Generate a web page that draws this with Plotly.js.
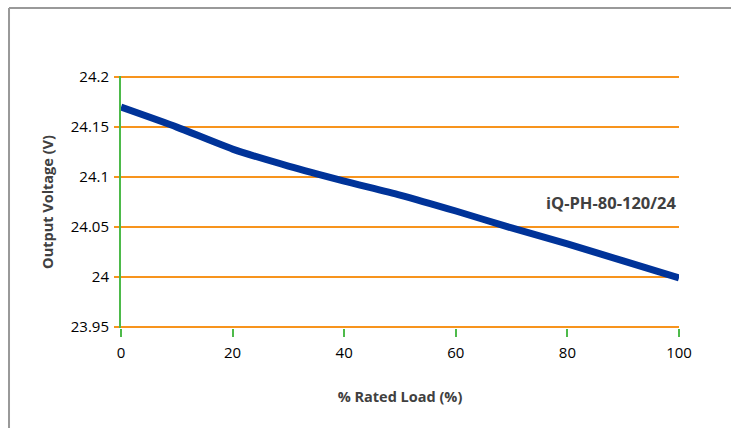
<!DOCTYPE html>
<html>
<head>
<meta charset="utf-8">
<script src="https://cdn.plot.ly/plotly-3.0.1.min.js"></script>
<style>
html,body{margin:0;padding:0;background:#fff;}
#chart{width:731px;height:428px;}
</style>
</head>
<body>
<div id="chart"></div>
<script>
const loadPct = [0, 10, 20, 30, 40, 50, 60, 70, 80, 90, 100];
const outputVoltage = [24.170, 24.150, 24.128, 24.111, 24.096, 24.082, 24.066, 24.049, 24.033, 24.016, 23.999];
const xTickVals = [0, 20, 40, 60, 80, 100];
const yTickVals = [23.95, 24, 24.05, 24.1, 24.15, 24.2];
const yTickText = ['23.95', '24', '24.05', '24.1', '24.15', '24.2'];
const seriesLabel = 'iQ-PH-80-120/24';

const font = '"Open Sans", Lato, sans-serif';
const gridColor = '#F7941D';

const trace = {
  x: loadPct,
  y: outputVoltage,
  type: 'scatter',
  mode: 'lines',
  line: {color: '#003399', width: 7, shape: 'spline', smoothing: 0.6},
  hoverinfo: 'skip',
  showlegend: false
};

const yMin = yTickVals[0];
const yMax = yTickVals[yTickVals.length - 1];
const pad = 0.0012;

const layout = {
  width: 731,
  height: 428,
  margin: {l: 121, r: 52, t: 76, b: 100},
  paper_bgcolor: '#ffffff',
  plot_bgcolor: '#ffffff',
  font: {family: font, size: 15, color: '#000000'},
  xaxis: {
    range: [0, 100],
    tickvals: xTickVals,
    ticks: 'outside',
    ticklen: 8,
    tickwidth: 2,
    tickcolor: '#4DBA4A',
    showgrid: false,
    zeroline: false,
    showline: false,
    ticklabelstandoff: 3,
    tickfont: {family: font, size: 15, color: '#000'},
    title: {text: '% Rated Load (%)', font: {family: font, size: 14.5, color: '#404040', weight: 'bold'}, standoff: 30}
  },
  yaxis: {
    range: [yMin - pad, yMax + pad],
    tickvals: yTickVals,
    ticktext: yTickText,
    ticks: 'outside',
    ticklen: 5,
    tickwidth: 2,
    tickcolor: gridColor,
    showgrid: true,
    gridcolor: gridColor,
    gridwidth: 2,
    zeroline: false,
    showline: true,
    linecolor: '#4DBA4A',
    linewidth: 2,
    ticklabelstandoff: 2,
    tickfont: {family: font, size: 15, color: '#000'},
    title: {text: 'Output Voltage (V)', font: {family: font, size: 14.5, color: '#404040', weight: 'bold'}, standoff: 14}
  },
  shapes: [
    {type: 'line', xref: 'paper', yref: 'paper', x0: -0.2007, x1: 1.2, y0: 1.27, y1: 1.27, line: {color: '#999999', width: 2}},
    {type: 'line', xref: 'paper', yref: 'paper', x0: -0.2007, x1: -0.2007, y0: 1.27, y1: -0.5, line: {color: '#999999', width: 2}}
  ],
  annotations: [
    {xref: 'paper', yref: 'y', x: 1, y: 24.075, xanchor: 'right', yanchor: 'middle', showarrow: false,
     text: seriesLabel, font: {family: font, size: 16.5, color: '#404040', weight: 'bold'}}
  ]
};

Plotly.newPlot('chart', [trace], layout, {displayModeBar: false, staticPlot: true});
</script>
</body>
</html>
